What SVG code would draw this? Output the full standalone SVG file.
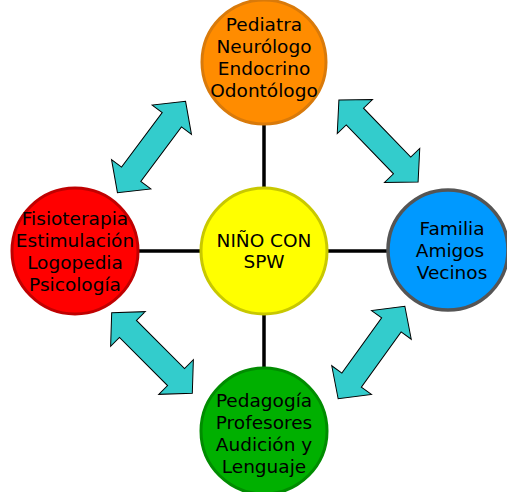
<svg xmlns="http://www.w3.org/2000/svg" width="507" height="492" viewBox="0 0 507 492">
<style>
.lbl{font-family:"DejaVu Sans","Verdana",sans-serif;font-size:18.5px;fill:#000;text-anchor:middle}
.conn{stroke:#000;stroke-width:3.5;fill:none}
.arr{fill:#33CCCC;stroke:#000;stroke-width:1}
</style>
<defs>
<polygon id="dbl" points="-57,0 -34,-24.5 -34,-12 34,-12 34,-24.5 57,0 34,24.5 34,12 -34,12 -34,24.5"/>
</defs>
<rect width="507" height="492" fill="#fff"/>
<g id="connectors">
<line class="conn" x1="264" y1="124" x2="264" y2="189"/>
<line class="conn" x1="138" y1="251" x2="201" y2="251"/>
<line class="conn" x1="327" y1="251" x2="389" y2="251"/>
<line class="conn" x1="264" y1="314" x2="264" y2="369"/>
<use href="#dbl" class="arr" transform="translate(151.5,147) rotate(-53.3)"/>
<use href="#dbl" class="arr" transform="translate(378.5,141) rotate(46)"/>
<use href="#dbl" class="arr" transform="translate(152,353) rotate(45)"/>
<use href="#dbl" class="arr" transform="translate(371.5,352.5) rotate(-54.2)"/>
</g>
<g id="top">
<circle cx="264" cy="62" r="62" fill="#FF8C00" stroke="#D97A0A" stroke-width="3"/>
<text class="lbl" x="264" y="31">Pediatra</text>
<text class="lbl" x="264" y="53">Neurólogo</text>
<text class="lbl" x="264" y="75">Endocrino</text>
<text class="lbl" x="264" y="97">Odontólogo</text>
</g>
<g id="left">
<circle cx="75" cy="251" r="63" fill="#FF0000" stroke="#C00000" stroke-width="3"/>
<text class="lbl" x="75" y="225">Fisioterapia</text>
<text class="lbl" x="75" y="247">Estimulación</text>
<text class="lbl" x="75" y="269">Logopedia</text>
<text class="lbl" x="75" y="291">Psicología</text>
</g>
<g id="center">
<circle cx="264" cy="251" r="63" fill="#FFFF00" stroke="#C8C800" stroke-width="3"/>
<text class="lbl" x="264" y="247">NIÑO CON</text>
<text class="lbl" x="264" y="268">SPW</text>
</g>
<g id="right">
<circle cx="448" cy="250" r="60" fill="#0099FF" stroke="#555555" stroke-width="3.5"/>
<text class="lbl" x="452" y="235">Familia</text>
<text class="lbl" x="450" y="257">Amigos</text>
<text class="lbl" x="452" y="279">Vecinos</text>
</g>
<g id="bottom">
<circle cx="264" cy="431" r="63" fill="#00B000" stroke="#008C00" stroke-width="3"/>
<text class="lbl" x="264" y="407">Pedagogía</text>
<text class="lbl" x="264" y="429">Profesores</text>
<text class="lbl" x="264" y="451">Audición y</text>
<text class="lbl" x="264" y="473">Lenguaje</text>
</g>
</svg>
